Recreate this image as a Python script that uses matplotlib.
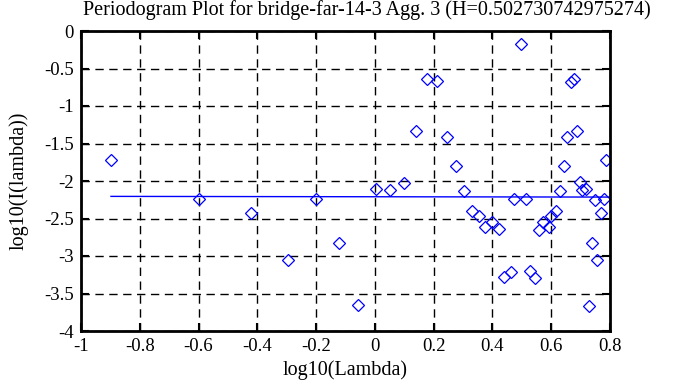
import numpy as np
import matplotlib
matplotlib.use("Agg")
import matplotlib.pyplot as plt

plt.rcParams['font.family'] = ['Liberation Serif', 'DejaVu Serif']

# log10 of frequency and periodogram values
log_lambda = [-0.898, -0.598, -0.423, -0.297, -0.202, -0.121, -0.057,
              0.003, 0.053, 0.099, 0.141, 0.178, 0.213, 0.244, 0.276,
              0.303, 0.329, 0.353, 0.376, 0.400, 0.422, 0.439, 0.462,
              0.475, 0.496, 0.514, 0.527, 0.544, 0.559, 0.572, 0.592,
              0.598, 0.616, 0.629, 0.642, 0.653, 0.666, 0.677, 0.689,
              0.697, 0.705, 0.720, 0.729, 0.739, 0.748, 0.757, 0.769,
              0.779, 0.788]
log_I = [-1.724, -2.244, -2.420, -3.053, -2.244, -2.830, -3.653,
         -2.102, -2.120, -2.022, -1.333, -0.644, -0.671, -1.409, -1.796,
         -2.129, -2.400, -2.467, -2.609, -2.551, -2.644, -3.284, -3.209,
         -2.244, -0.173, -2.244, -3.196, -3.289, -2.653, -2.542, -2.609,
         -2.467, -2.400, -2.129, -1.800, -1.409, -0.676, -0.644, -1.333,
         -2.018, -2.120, -2.102, -3.662, -2.831, -2.253, -3.053, -2.422,
         -2.240, -1.720]

H = 0.502730742975274
intercept = -2.21
slope = 1 - 2 * H

fig = plt.figure(figsize=(6.78, 3.87), dpi=100)
ax = fig.add_axes([81 / 678, 1 - 331 / 387, 529 / 678, 300 / 387])

# fitted line (slope = 1 - 2H)
xs = np.array(log_lambda)
fit_x = np.array([xs.min(), 0.8])
ax.plot(fit_x, intercept + slope * fit_x, color='blue', lw=1)
ax.plot(log_lambda, log_I, linestyle='none', marker='D', markersize=6.6,
        markerfacecolor='none', markeredgecolor='blue', markeredgewidth=0.9)

ax.set_xlim(-1, 0.8)
ax.set_ylim(-4, 0)
ax.set_xticks(np.arange(-1, 0.81, 0.2))
ax.set_yticks(np.arange(-4, 0.01, 0.5))
ax.set_xticklabels(['-1', '-0.8', '-0.6', '-0.4', '-0.2', '0', '0.2', '0.4', '0.6', '0.8'])
ax.set_yticklabels(['-4', '-3.5', '-3', '-2.5', '-2', '-1.5', '-1', '-0.5', '0'])
ax.grid(True, color='black', linestyle=(0, (6, 4)), linewidth=1)
ax.tick_params(direction='in', length=6, width=1.5, top=True, right=True,
               labelsize=13.5)
ax.tick_params(axis='x', pad=5)
ax.tick_params(axis='y', pad=5)
for s in ax.spines.values():
    s.set_linewidth(2)

ax.set_xlabel('log10(Lambda)', fontsize=14.5, labelpad=4)
ax.set_ylabel('log10(I(lambda))', fontsize=14.5, labelpad=11)
fig.text(367 / 678, 1 - 10 / 387, 'Periodogram Plot for bridge-far-14-3 Agg. 3 (H=0.502730742975274)',
         ha='center', va='center', fontsize=14.5)

fig.savefig('out.png', dpi=100)
